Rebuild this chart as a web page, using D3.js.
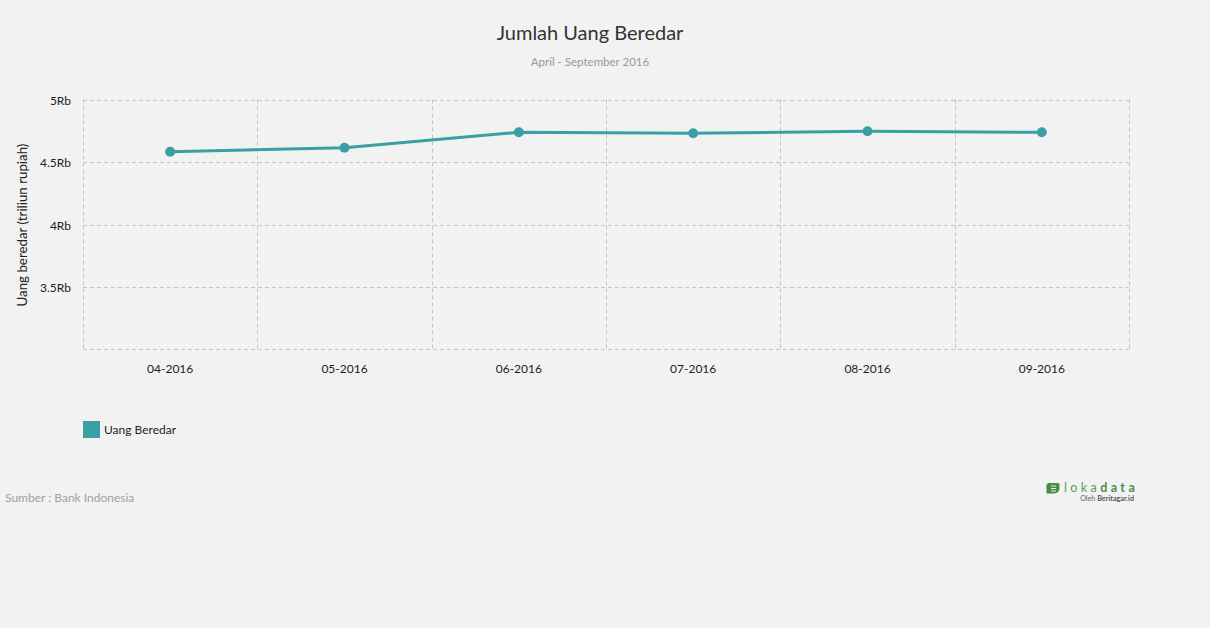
<!DOCTYPE html>
<html><head><meta charset="utf-8">
<script src="https://cdn.jsdelivr.net/npm/d3@7/dist/d3.min.js"></script>
<style>
html,body{margin:0;padding:0;background:#f2f2f2;}
svg{display:block;font-family:Lato,"Open Sans",sans-serif;}
</style></head>
<body>
<svg id="chart" width="1210" height="628"></svg>
<script>
const categories = ["04-2016","05-2016","06-2016","07-2016","08-2016","09-2016"];
const values = [4581.9, 4614.1, 4737.5, 4730.4, 4746.0, 4737.6];
const yTicks = [3500, 4000, 4500, 5000];
const seriesName = "Uang Beredar";
const title = "Jumlah Uang Beredar";
const subtitle = "April - September 2016";
const yLabel = "Uang beredar (triliun rupiah)";
const source = "Sumber : Bank Indonesia";

(function(){
const color = "#3aa0a5";
const svg = d3.select("#chart");
svg.append("rect").attr("width",1210).attr("height",628).attr("fill","#f2f2f2");

const pLeft = 83, pRight = 1129, pTop = 99.5, pBottom = 349.5;
const x = d3.scaleBand().domain(categories).range([pLeft, pRight]);
const y = d3.scaleLinear().domain([3000, 5000]).range([pBottom, pTop]);

// title
svg.append("text").attr("x",590).attr("y",40).attr("text-anchor","middle")
  .attr("font-size",20).attr("fill","#333").text(title);
svg.append("text").attr("x",590).attr("y",65.5).attr("text-anchor","middle")
  .attr("font-size",11.5).attr("fill","#999").text(subtitle);

// grid
const grid = svg.append("g").attr("stroke","#c4c4c4").attr("stroke-dasharray","4,3").attr("stroke-width",1).attr("fill","none");
yTicks.forEach(t => grid.append("line").attr("x1",pLeft).attr("x2",pRight).attr("y1",Math.round(y(t))+0.5).attr("y2",Math.round(y(t))+0.5));
grid.append("line").attr("x1",pLeft).attr("x2",pRight).attr("y1",pBottom).attr("y2",pBottom);
const bounds = categories.map(c => x(c)).concat([pRight]);
bounds.forEach(b => grid.append("line").attr("x1",Math.round(b)+0.5).attr("x2",Math.round(b)+0.5).attr("y1",pTop).attr("y2",pBottom));

// y axis labels
const yAxis = d3.axisLeft(y).tickValues(yTicks).tickSize(0).tickPadding(12)
  .tickFormat(d => (d/1000) + "Rb");
const ga = svg.append("g").attr("transform",`translate(${pLeft},1)`).call(yAxis);
ga.select(".domain").remove();
ga.selectAll("text").attr("font-size",12).attr("fill","#222").attr("font-family","Lato");

// x axis labels
const xAxis = d3.axisBottom(x).tickSize(0).tickPadding(15);
const gx = svg.append("g").attr("transform",`translate(0,${pBottom})`).call(xAxis);
gx.select(".domain").remove();
gx.selectAll("text").attr("font-size",12).attr("fill","#222").attr("font-family","Lato");

// y label
svg.append("text").attr("transform","translate(27,225) rotate(-90)").attr("text-anchor","middle")
  .attr("font-size",13.3).attr("fill","#222").text(yLabel);

// line
const cx = c => x(c) + x.bandwidth()/2;
const line = d3.line().x((d,i)=>cx(categories[i])).y(d=>y(d));
svg.append("path").datum(values).attr("d",line).attr("fill","none")
  .attr("stroke",color).attr("stroke-width",3).attr("stroke-linejoin","round");
svg.selectAll("circle.pt").data(values).enter().append("circle").attr("class","pt")
  .attr("cx",(d,i)=>cx(categories[i])).attr("cy",d=>y(d)).attr("r",5).attr("fill",color);

// legend
svg.append("rect").attr("x",83).attr("y",421).attr("width",17).attr("height",17).attr("fill",color);
svg.append("text").attr("x",104).attr("y",434).attr("font-size",12).attr("fill","#222").text(seriesName);

// source
svg.append("text").attr("x",5).attr("y",502).attr("font-size",12).attr("fill","#a0a0a0").text(source);

// logo
const logo = svg.append("g");
logo.append("path").attr("d","M1048,483 h10 a1.5,1.5 0 0 1 1.5,1.5 v4 a5,5 0 0 1 -5,5 h-8 v-5 a5.5,5.5 0 0 1 1.5,-5.5 z").attr("fill","#4a8c4a");
[486,488.5,491].forEach(yy => logo.append("line").attr("x1",1051).attr("x2",1056).attr("y1",yy).attr("y2",yy).attr("stroke","#e8f2e8").attr("stroke-width",1));
logo.append("text").attr("x",1064).attr("y",492).attr("font-size",12.5).attr("letter-spacing","3.4").attr("fill","#5a9a5a").text("loka")
  .append("tspan").attr("font-weight","bold").attr("fill","#4a8c4a").text("data");
logo.append("text").attr("x",1134).attr("y",500.5).attr("text-anchor","end").attr("font-size",7.2).attr("fill","#666")
  .text("Oleh ").append("tspan").attr("font-weight","bold").attr("fill","#555").text("Beritagar.id");
})();
</script>
</body></html>
